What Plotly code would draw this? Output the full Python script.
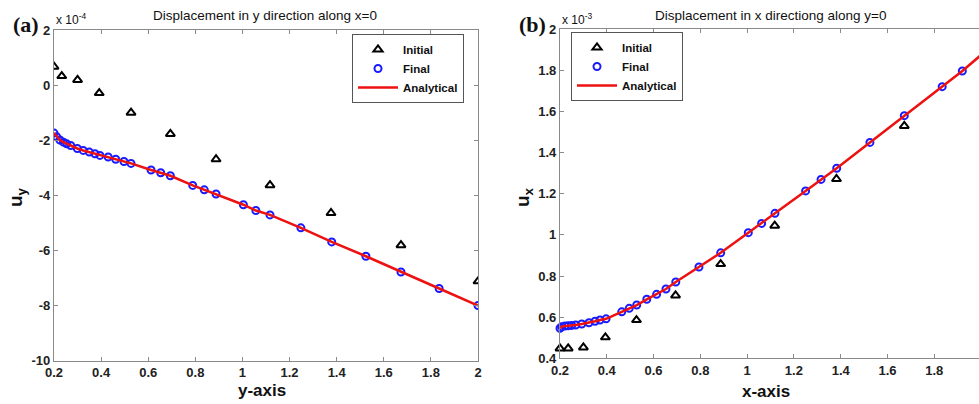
import plotly.graph_objects as go

# ---------------- data ----------------
# (a) u_y along x=0, values in units of 1e-4
a_init_x = [0.2, 0.233, 0.3, 0.392, 0.527, 0.694, 0.888, 1.117, 1.376, 1.673, 2.0]
a_init_y = [0.67, 0.33, 0.19, -0.29, -1.0, -1.77, -2.69, -3.63, -4.64, -5.81, -7.12]
a_final_x = [0.2, 0.211, 0.225, 0.24, 0.254, 0.271, 0.299, 0.324, 0.35, 0.374, 0.395,
             0.43, 0.462, 0.497, 0.527, 0.612, 0.653, 0.694, 0.789, 0.838, 0.888,
             1.004, 1.057, 1.117, 1.248, 1.379, 1.524, 1.673, 1.835, 2.0]
a_final_y = [-1.74, -1.87, -1.99, -2.07, -2.13, -2.19, -2.30, -2.37, -2.43, -2.49, -2.55,
             -2.61, -2.69, -2.77, -2.84, -3.08, -3.18, -3.29, -3.64, -3.80, -3.95,
             -4.34, -4.55, -4.71, -5.18, -5.69, -6.21, -6.78, -7.38, -8.0]
a_anal_x = [0.2, 0.211, 0.225, 0.24, 0.254, 0.271, 0.299, 0.324, 0.35, 0.374, 0.395,
            0.43, 0.462, 0.497, 0.527, 0.612, 0.653, 0.694, 0.789, 0.838, 0.888,
            1.004, 1.057, 1.117, 1.248, 1.379, 1.524, 1.673, 1.835, 2.0]
a_anal_y = [-1.74, -1.87, -1.99, -2.07, -2.13, -2.19, -2.30, -2.37, -2.43, -2.49, -2.55,
            -2.61, -2.69, -2.77, -2.84, -3.08, -3.18, -3.29, -3.64, -3.80, -3.95,
            -4.34, -4.55, -4.71, -5.18, -5.69, -6.21, -6.78, -7.38, -8.0]

# (b) u_x along y=0, values in units of 1e-3
b_init_x = [0.2, 0.235, 0.3, 0.394, 0.527, 0.694, 0.887, 1.118, 1.382, 1.672, 2.0]
b_init_y = [0.448, 0.448, 0.453, 0.502, 0.586, 0.706, 0.858, 1.045, 1.272, 1.53, 1.82]
b_final_x = [0.2, 0.207, 0.221, 0.235, 0.25, 0.267, 0.293, 0.324, 0.35, 0.371, 0.397,
             0.464, 0.496, 0.528, 0.571, 0.613, 0.653, 0.695, 0.794, 0.887, 1.005,
             1.062, 1.119, 1.25, 1.316, 1.383, 1.525, 1.672, 1.834, 1.92, 2.0]
b_final_y = [0.546, 0.554, 0.557, 0.558, 0.56, 0.562, 0.567, 0.573, 0.58, 0.586, 0.592,
             0.626, 0.643, 0.659, 0.687, 0.711, 0.737, 0.771, 0.844, 0.913, 1.011,
             1.056, 1.105, 1.214, 1.27, 1.324, 1.45, 1.58, 1.721, 1.797, 1.875]
b_anal_x = [0.2, 0.207, 0.221, 0.235, 0.25, 0.267, 0.293, 0.324, 0.35, 0.371, 0.397,
            0.464, 0.496, 0.528, 0.571, 0.613, 0.653, 0.695, 0.794, 0.887, 1.005,
            1.062, 1.119, 1.25, 1.316, 1.383, 1.525, 1.672, 1.834, 1.92, 2.0]
b_anal_y = [0.546, 0.554, 0.557, 0.558, 0.56, 0.562, 0.567, 0.573, 0.58, 0.586, 0.592,
            0.626, 0.643, 0.659, 0.687, 0.711, 0.737, 0.771, 0.844, 0.913, 1.011,
            1.056, 1.105, 1.214, 1.27, 1.324, 1.45, 1.58, 1.721, 1.797, 1.875]

x_ticks = [0.2, 0.4, 0.6, 0.8, 1.0, 1.2, 1.4, 1.6, 1.8, 2.0]
x_ticktext = ["0.2", "0.4", "0.6", "0.8", "1", "1.2", "1.4", "1.6", "1.8", "2"]
a_y_ticks = [-10, -8, -6, -4, -2, 0, 2]
a_y_ticktext = ["-10", "-8", "-6", "-4", "-2", "0", "2"]
b_y_ticks = [0.4, 0.6, 0.8, 1.0, 1.2, 1.4, 1.6, 1.8, 2.0]
b_y_ticktext = ["0.4", "0.6", "0.8", "1", "1.2", "1.4", "1.6", "1.8", "2"]

# ---------------- layout helpers ----------------
W, H = 979, 404
SANS = "Arial, Liberation Sans, sans-serif"
SERIF = "Times New Roman, Liberation Serif, serif"
AXC = "#8a8a8a"

# right panel runs past the page edge: its x axis is cut at the page border
B_LEFT_PX, B_PX_PER_UNIT = 560, 233.9
b_x_max = 0.2 + (W - B_LEFT_PX) / B_PX_PER_UNIT


def px(x):
    return x / W


def py(y):
    return 1 - y / H


fig = go.Figure()


def add_panel(ix, iy, fx, fy, lx, ly, xa, ya, leg, clip):
    fig.add_trace(go.Scatter(x=ix, y=iy, mode="markers", name="Initial",
                             xaxis=xa, yaxis=ya, legend=leg, cliponaxis=clip,
                             marker=dict(symbol="triangle-up-open", size=8,
                                         color="black", line=dict(width=2))))
    fig.add_trace(go.Scatter(x=fx, y=fy, mode="markers", name="Final",
                             xaxis=xa, yaxis=ya, legend=leg, cliponaxis=clip,
                             marker=dict(symbol="circle-open", size=7,
                                         color="#1a1aff", line=dict(width=2))))
    fig.add_trace(go.Scatter(x=lx, y=ly, mode="lines", name="Analytical",
                             xaxis=xa, yaxis=ya, legend=leg, cliponaxis=clip,
                             line=dict(color="#ee1111", width=2.5)))


add_panel(a_init_x, a_init_y, a_final_x, a_final_y, a_anal_x, a_anal_y,
          "x", "y", "legend", True)
add_panel(b_init_x, b_init_y, b_final_x, b_final_y, b_anal_x, b_anal_y,
          "x2", "y2", "legend2", False)

tickfont = dict(family=SANS, size=13, color="#222", weight="bold")
axis_common = dict(showline=True, linecolor=AXC, linewidth=1.2,
                   ticks="inside", ticklen=4, tickcolor=AXC, tickwidth=1,
                   showgrid=False, zeroline=False, automargin=False,
                   tickfont=tickfont)

legend_style = dict(xanchor="left", yanchor="top", bgcolor="white",
                    bordercolor="#555", borderwidth=1,
                    font=dict(family=SANS, size=11.5, color="#111", weight="bold"),
                    tracegroupgap=0, itemwidth=40)

fig.update_layout(
    template="none",
    width=W, height=H, autosize=False,
    margin=dict(l=0, r=0, t=0, b=0, pad=0, autoexpand=False),
    paper_bgcolor="white", plot_bgcolor="white",
    xaxis=dict(domain=[px(54), px(478)], range=[0.2, 2.0], anchor="y", mirror="ticks",
               tickvals=x_ticks, ticktext=x_ticktext, **axis_common),
    yaxis=dict(domain=[py(360.7), py(30)], range=[-10, 2], anchor="x", mirror="ticks",
               tickvals=a_y_ticks, ticktext=a_y_ticktext, **axis_common),
    xaxis2=dict(domain=[px(B_LEFT_PX), 1.0], range=[0.2, b_x_max], anchor="y2",
                mirror="ticks", tickvals=x_ticks, ticktext=x_ticktext, **axis_common),
    yaxis2=dict(domain=[py(358.3), py(29.3)], range=[0.4, 2.0], anchor="x2", mirror=False,
                tickvals=b_y_ticks, ticktext=b_y_ticktext, **axis_common),
    legend=dict(x=px(352), y=py(34), **legend_style),
    legend2=dict(x=px(571), y=py(32), **legend_style),
    showlegend=True,
)

# last x tick label of panel (b), sitting on the page border
fig.add_annotation(text=x_ticktext[-1], x=x_ticks[-1], y=py(364), xref="x2", yref="paper",
                   yanchor="top", showarrow=False, font=tickfont)


def note(text, x, y, size, family=SANS, bold=False, angle=0, xanchor="center",
         yanchor="middle", color="#111"):
    fig.add_annotation(text=text, x=px(x), y=py(y), xref="paper", yref="paper",
                       showarrow=False, xanchor=xanchor, yanchor=yanchor,
                       textangle=angle,
                       font=dict(family=family, size=size, color=color,
                                 weight="bold" if bold else "normal"))


# panel letters
note("(a)", 26, 24, 22, family=SERIF, bold=True)
note("(b)", 532, 24, 22, family=SERIF, bold=True)

# exponent labels
note("x 10<sup>-4</sup>", 54, 19, 12, xanchor="left")
note("x 10<sup>-3</sup>", 560, 19, 12, xanchor="left")

# titles
note("Displacement in y direction along x=0", 265, 15, 13.5)
note("Displacement in x directiong along y=0", 771, 15, 13.5)

# axis titles
note("y-axis", 262, 390, 17, bold=True)
note("x-axis", 766, 391, 17, bold=True)
note("u<sub>y</sub>", 17, 197, 19, bold=True, angle=-90)
note("u<sub>x</sub>", 524, 197, 19, bold=True, angle=-90)

fig.write_html("out.html",
               post_script="document.body.style.margin='0';"
                           "document.documentElement.style.overflow='hidden';")
